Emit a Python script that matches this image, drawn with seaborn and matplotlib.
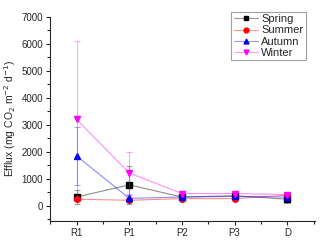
import numpy as np
import pandas as pd
import seaborn as sns
import matplotlib.pyplot as plt
from matplotlib.colors import to_rgba
from matplotlib.lines import Line2D
from matplotlib.ticker import AutoMinorLocator

sites = ['R1', 'P1', 'P2', 'P3', 'D']
seasons = ['Spring', 'Summer', 'Autumn', 'Winter']
spring = [330, 780, 330, 380, 250]
spring_err = [270, 690, 60, 60, 150]
summer = [250, 210, 270, 270, 400]
summer_err = [60, 80, 50, 50, 60]
autumn = [1850, 280, 330, 350, 330]
autumn_err = [1060, 120, 50, 50, 60]
winter = [3200, 1220, 460, 460, 420]
winter_err = [2900, 770, 60, 60, 60]

colors = ['black', 'red', 'blue', 'magenta']
markers = ['s', 'o', '^', 'v']

rows = []
for s, vals, errs in zip(seasons, [spring, summer, autumn, winter],
                         [spring_err, summer_err, autumn_err, winter_err]):
    for i, (v, e) in enumerate(zip(vals, errs)):
        rows.append({'season': s, 'site': sites[i], 'x': i, 'efflux': v, 'err': e})
df = pd.DataFrame(rows)

sns.set_style('ticks')
plt.rcParams['font.family'] = ['Liberation Sans', 'DejaVu Sans']

fig, ax = plt.subplots(figsize=(3.2, 2.4), dpi=100)
for s, c, m in zip(seasons, colors, markers):
    d = df[df.season == s]
    ax.errorbar(d.x, d.efflux, yerr=d.err, fmt='none', ecolor=c, alpha=0.35,
                elinewidth=0.8, capsize=2, capthick=0.8)
    sns.lineplot(data=d, x='x', y='efflux', color=c, alpha=0.45, lw=0.8, ax=ax)
    ax.plot(d.x, d.efflux, ls='none', marker=m, color=c, ms=4)

# light line, solid marker in the legend
handles = [Line2D([], [], color=to_rgba(c, 0.4), lw=0.8, marker=m, ms=3.5,
                  markerfacecolor=c, markeredgecolor=c)
           for c, m in zip(colors, markers)]
leg = ax.legend(handles, seasons, loc='upper right', fontsize=8, frameon=True,
                fancybox=False, edgecolor='#888888', handlelength=2.2,
                handletextpad=0.3, borderpad=0.2, labelspacing=0.1,
                bbox_to_anchor=(0.985, 1.05))
leg.get_frame().set_linewidth(0.8)

ax.set_xticks(range(len(sites)))
ax.set_xticklabels(sites)
ax.set_xlim(-0.5, 4.53)
ax.set_ylim(-550, 7000)
ax.set_yticks(range(0, 7001, 1000))
ax.yaxis.set_minor_locator(AutoMinorLocator(2))
ax.xaxis.set_minor_locator(AutoMinorLocator(2))
ax.tick_params(labelsize=7, length=3, width=0.8, pad=2)
ax.tick_params(which='minor', length=2, width=0.8)
ax.set_xlabel('')
ax.set_ylabel('Efflux (mg CO$_2$ m$^{-2}$ d$^{-1}$)', fontsize=7.5, labelpad=3)
sns.despine(ax=ax)
for sp in ax.spines.values():
    sp.set_linewidth(0.8)

fig.subplots_adjust(left=0.157, right=0.985, top=0.93, bottom=0.08)
fig.savefig('out.png', dpi=100)
